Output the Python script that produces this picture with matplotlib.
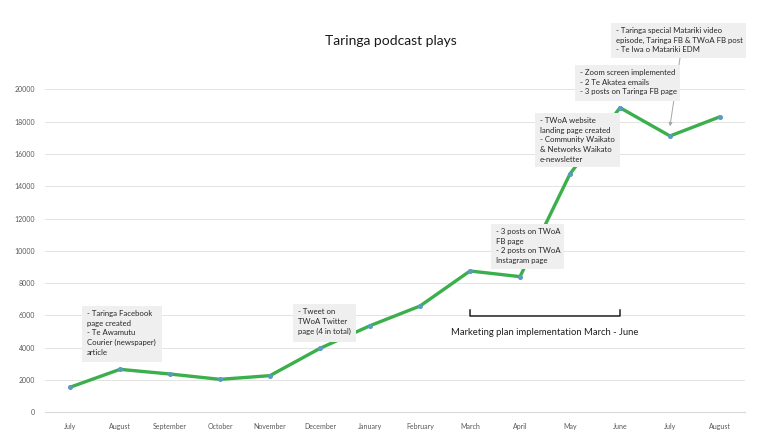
import matplotlib.pyplot as plt
from matplotlib.patches import Rectangle

plt.rcParams['font.family'] = ['Lato', 'DejaVu Sans']

months = ['July', 'August', 'September', 'October', 'November', 'December',
          'January', 'February', 'March', 'April', 'May', 'June', 'July', 'August']
plays = [1550, 2660, 2370, 2040, 2270, 3960, 5360, 6580, 8750, 8400,
         14760, 18860, 17110, 18300]
yticks = list(range(0, 20001, 2000))

W, H = 768, 445
fig = plt.figure(figsize=(W / 100, H / 100), dpi=100)


def fx(x):
    return x / W


def fy(y):
    return 1 - y / H


# plot area in pixels
left, right, top, bottom = 45, 745, 89.3, 412.3
ax = fig.add_axes([fx(left), fy(bottom), fx(right - left), (bottom - top) / H])

x = list(range(len(months)))
ax.plot(x, plays, color='#3aaf4c', lw=2.4, zorder=3, solid_capstyle='round')
ax.plot(x, plays, ls='none', marker='o', ms=2.6, color='#5b9bc0', zorder=4)

ax.set_xlim(-0.5, len(months) - 0.5)
ax.set_ylim(0, 20000)
ax.set_yticks(yticks)
ax.set_yticklabels([str(v) for v in yticks])
ax.set_xticks(x)
ax.set_xticklabels(months)
ax.tick_params(axis='both', length=0, labelsize=5, labelcolor='#595959')
ax.tick_params(axis='x', pad=8)
ax.tick_params(axis='y', pad=7)
ax.grid(axis='y', color='#e3e3e3', lw=0.7)
ax.set_axisbelow(True)
for s in ['top', 'right', 'left']:
    ax.spines[s].set_visible(False)
ax.spines['bottom'].set_color('#d9d9d9')
ax.spines['bottom'].set_linewidth(0.8)

fig.text(fx(391), fy(41), 'Taringa podcast plays', ha='center', va='center',
         fontsize=10, color='#1a1a1a')

# annotation boxes: (left, top, right, bottom) in pixels, text
notes = [
    ((82, 306, 162, 362), '- Taringa Facebook\npage created\n- Te Awamutu\nCourier (newspaper)\narticle'),
    ((293, 304, 356, 342), '- Tweet on\nTWoA Twitter\npage (4 in total)'),
    ((491, 224, 564, 269), '- 3 posts on TWoA\nFB page\n- 2 posts on TWoA\nInstagram page'),
    ((535, 113, 620, 167), '- TWoA website\nlanding page created\n- Community Waikato\n& Networks Waikato\ne-newsletter'),
    ((575, 65, 680, 101), '- Zoom screen implemented\n- 2 Te Akatea emails\n- 3 posts on Taringa FB page'),
    ((611, 23, 746, 58), '- Taringa special Matariki video\nepisode, Taringa FB & TWoA FB post\n- Te Iwa o Matariki EDM'),
]
for (l, t, r, b), txt in notes:
    fig.patches.append(Rectangle((fx(l), fy(b)), fx(r - l), (b - t) / H,
                                 transform=fig.transFigure, facecolor='#efefef',
                                 edgecolor='none', zorder=5))
    fig.text(fx(l + 5), fy(t + 4), txt, ha='left', va='top', fontsize=5.6,
             linespacing=1.45, color='#262626', zorder=6)

# arrow from top box down to July point
ax.annotate('', xy=(12, plays[12] + 600), xycoords='data',
            xytext=(fx(680), fy(58)), textcoords='figure fraction',
            arrowprops=dict(arrowstyle='-|>', color='#a6a6a6', lw=0.7,
                            mutation_scale=5, shrinkA=0, shrinkB=0), zorder=2)

# bracket for marketing plan
by = 5960
ax.plot([8, 8, 11, 11], [by + 350, by, by, by + 350], color='#222222', lw=1.1,
        clip_on=False)
ax.text(9.5, by - 1000, 'Marketing plan implementation March - June',
        ha='center', va='center', fontsize=6.8, color='#222222')

fig.savefig('out.png', dpi=100)
